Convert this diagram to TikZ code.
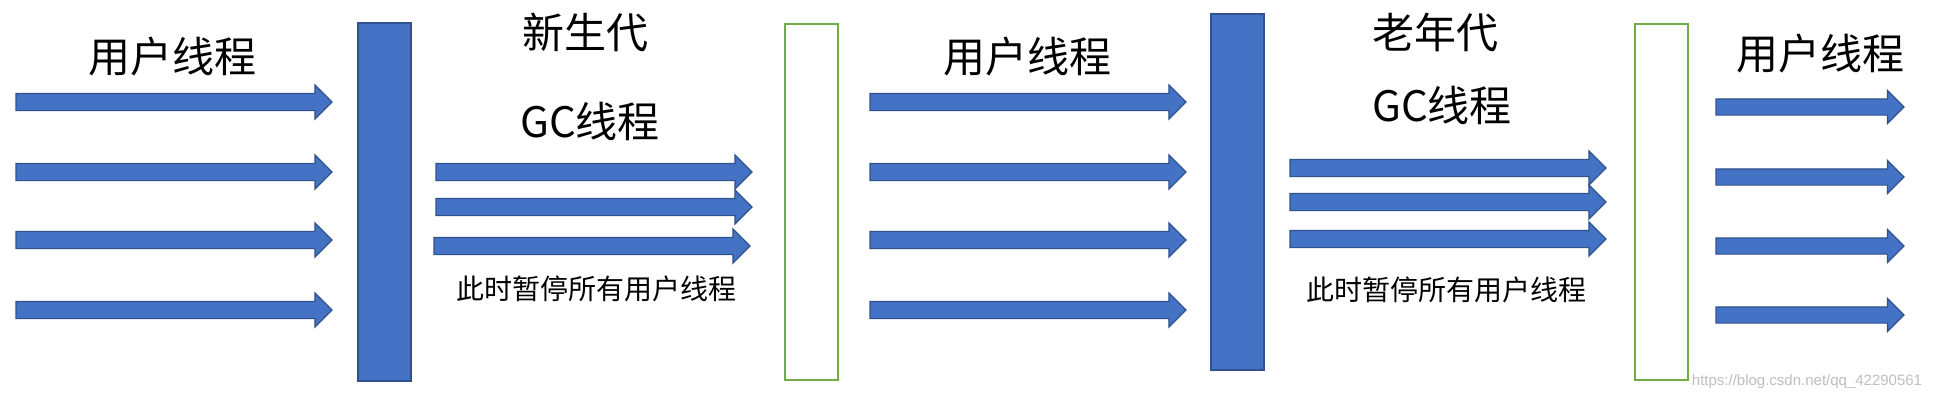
\documentclass[tikz,border=0pt]{standalone}
\usepackage{fontspec}
\setmainfont{Noto Sans CJK SC}
\newfontfamily\wmfont{Liberation Sans}
\usetikzlibrary{shapes.arrows}
\definecolor{ofblue}{HTML}{4472C4}
\definecolor{ofedge}{HTML}{2F528F}
\definecolor{ofgreen}{HTML}{70AD47}
\tikzset{
  thread/.style={single arrow, draw=ofedge, fill=ofblue, line width=1.2pt,
    inner xsep=0pt, inner ysep=8pt, outer sep=0pt, minimum width=33pt, single arrow head extend=8.5pt,
    anchor=west},
  barblue/.style={draw=ofedge, fill=ofblue, line width=1.5pt},
  bargreen/.style={draw=ofgreen, line width=2.2pt},
  bigtxt/.style={font=\fontsize{42}{48}\selectfont, inner sep=0pt},
  smalltxt/.style={font=\fontsize{28}{32}\selectfont, inner sep=0pt},
}
\begin{document}
\begin{tikzpicture}[x=1pt,y=-1pt]
\useasboundingbox[fill=white] (0,0) rectangle (1936,400);
% bars
\node[barblue, inner sep=0pt, minimum width=53pt, minimum height=358pt, anchor=north west] (bar1) at (357,22) {};
\node[bargreen, inner sep=0pt, minimum width=53pt, minimum height=356pt, anchor=north west] (box1) at (784,23) {};
\node[barblue, inner sep=0pt, minimum width=53pt, minimum height=356pt, anchor=north west] (bar2) at (1210,13) {};
\node[bargreen, inner sep=0pt, minimum width=53pt, minimum height=356pt, anchor=north west] (box2) at (1634,23) {};
% user threads left
\foreach \y [count=\i] in {102,172,240,310} \node[thread, minimum height=316pt] (ua\i) at (16,\y) {};
% young GC threads
\node[thread, minimum height=316pt] (ga1) at (436,172) {};
\node[thread, minimum height=316pt] (ga2) at (436,207) {};
\node[thread, minimum height=316pt] (ga3) at (434,246) {};
% user threads middle
\foreach \y [count=\i] in {102,172,240,310} \node[thread, minimum height=316pt] (ub\i) at (870,\y) {};
% old GC threads
\node[thread, minimum height=316pt] (gb1) at (1290,168) {};
\node[thread, minimum height=316pt] (gb2) at (1290,202) {};
\node[thread, minimum height=316pt] (gb3) at (1290,239) {};
% user threads right
\foreach \y [count=\i] in {107,177,246,315} \node[thread, minimum height=188pt, inner ysep=7.5pt, minimum width=32pt] (uc\i) at (1716,\y) {};
% texts
\node[bigtxt] (t1) at (172,57) {用户线程};
\node[bigtxt] (t2) at (585,32) {新生代};
\node[bigtxt] (t3) at (590,121) {GC线程};
\node[smalltxt] (t4) at (596,289) {此时暂停所有用户线程};
\node[bigtxt] (t5) at (1027,57) {用户线程};
\node[bigtxt] (t6) at (1435,32) {老年代};
\node[bigtxt] (t7) at (1442,105) {GC线程};
\node[smalltxt] (t8) at (1446,290) {此时暂停所有用户线程};
\node[bigtxt] (t9) at (1820,54) {用户线程};
\node[font=\wmfont\fontsize{15}{18}\selectfont, text=black!25, inner sep=0pt] (wm) at (1807,382) {https://blog.csdn.net/qq\_42290561};
\end{tikzpicture}
\end{document}
